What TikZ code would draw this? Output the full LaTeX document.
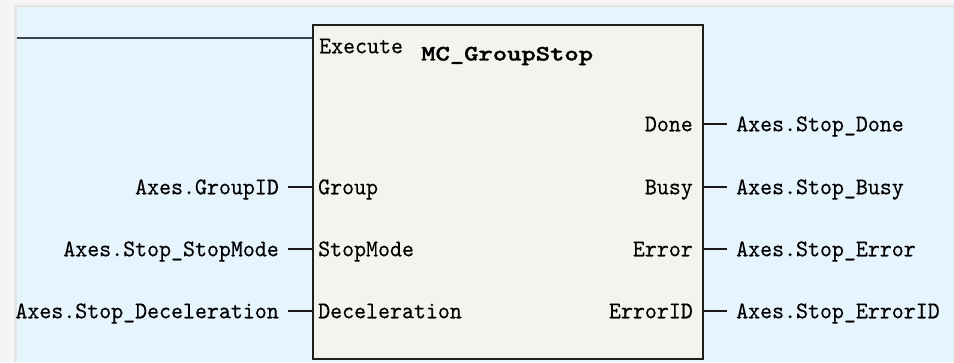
\documentclass[tikz,border=0pt]{standalone}
\usepackage{fontspec}
\usepackage{tikz}
\usetikzlibrary{positioning}
\newfontfamily\plcfont[FakeStretch=0.95, FakeBold=0.25]{lmmono10-regular.otf}
\newfontfamily\plctitle[FakeStretch=1.24, FakeBold=1.5]{lmmonolt10-bold.otf}
\definecolor{framegrey}{HTML}{F5F5F5}
\definecolor{edgegrey}{HTML}{E4E4E4}
\definecolor{sheetblue}{HTML}{E6F4FE}
\definecolor{blockfill}{HTML}{F4F4EF}
\definecolor{railgrey}{HTML}{3A434C}
\tikzset{
  fbblock/.style={draw=black!88, fill=blockfill, line width=1.5pt,
                  anchor=north west, minimum width=390pt, minimum height=334pt,
                  inner sep=0pt},
  pintext/.style={font=\fontsize{24}{28}\plcfont, inner ysep=0pt,
                  text height=17.5pt, text depth=3pt},
  pinin/.style={pintext, anchor=west, inner xsep=6pt},
  pinout/.style={pintext, anchor=east, inner xsep=9pt},
  extin/.style={pintext, inner xsep=9pt},
  extout/.style={pintext, inner xsep=9pt},
  pinwire/.style={line width=1.5pt, draw=black!90}
}
\begin{document}
\begin{tikzpicture}[x=1pt, y=-1pt]
  \useasboundingbox (0,0) rectangle (954,362);
  % sheet
  \fill[framegrey] (0,0) rectangle (954,362);
  \fill[edgegrey] (14,5) rectangle (17,362);
  \fill[edgegrey] (14,5) rectangle (954,7);
  \fill[sheetblue] (17,7) rectangle (954,362);
  % function block
  \node[fbblock] (blk) at (312,24) {};
  \node[pintext, anchor=west, inner xsep=0pt] (pExecute) at (319,46) {Execute};
  \node[anchor=west, inner sep=0pt, font=\fontsize{22}{26}\plctitle]
       (title) at (421,56) {MC\_GroupStop};
  % inputs
  \node[pinin] (pGroup) at (312,187) {Group};
  \node[pinin] (pStopMode) at (312,249) {StopMode};
  \node[pinin] (pDecel) at (312,311) {Deceleration};
  \node[extin, left=24pt of pGroup] (vGroup) {Axes.GroupID};
  \node[extin, left=24pt of pStopMode] (vStopMode) {Axes.Stop\_StopMode};
  \node[extin, left=24pt of pDecel] (vDecel) {Axes.Stop\_Deceleration};
  % outputs
  \node[pinout] (pDone) at (702,124) {Done};
  \node[pinout] (pBusy) at (702,187) {Busy};
  \node[pinout] (pError) at (702,249) {Error};
  \node[pinout] (pErrorID) at (702,311) {ErrorID};
  \node[extout, right=25pt of pDone] (vDone) {Axes.Stop\_Done};
  \node[extout, right=25pt of pBusy] (vBusy) {Axes.Stop\_Busy};
  \node[extout, right=25pt of pError] (vError) {Axes.Stop\_Error};
  \node[extout, right=25pt of pErrorID] (vErrorID) {Axes.Stop\_ErrorID};
  % wires
  \coordinate (rail) at (17,38);
  \draw[line width=2.5pt, draw=railgrey!35] (rail) -- (rail -| blk.west);
  \draw[line width=1.5pt, draw=railgrey] (rail) -- (rail -| blk.west);
  \draw[pinwire] (vGroup.east) -- (pGroup.west);
  \draw[pinwire] (vStopMode.east) -- (pStopMode.west);
  \draw[pinwire] (vDecel.east) -- (pDecel.west);
  \draw[pinwire] (pDone.east) -- (vDone.west);
  \draw[pinwire] (pBusy.east) -- (vBusy.west);
  \draw[pinwire] (pError.east) -- (vError.west);
  \draw[pinwire] (pErrorID.east) -- (vErrorID.west);
\end{tikzpicture}
\end{document}
